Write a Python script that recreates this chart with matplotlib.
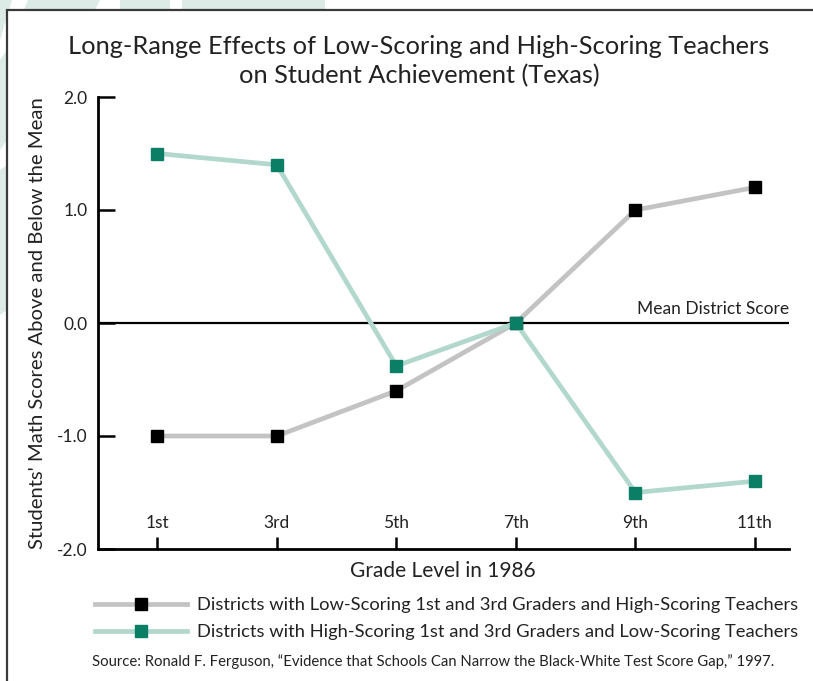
import matplotlib
matplotlib.use("Agg")
import matplotlib.pyplot as plt
from matplotlib.patches import Rectangle, Polygon

plt.rcParams['font.family'] = ['Lato', 'DejaVu Sans']

grades = [1, 3, 5, 7, 9, 11]
grade_labels = ['1st', '3rd', '5th', '7th', '9th', '11th']
low_scoring = [-1.0, -1.0, -0.6, 0.0, 1.0, 1.2]
high_scoring = [1.5, 1.4, -0.38, 0.0, -1.5, -1.4]
y_ticks = [2.0, 1.0, 0.0, -1.0, -2.0]
y_tick_labels = ['2.0', '1.0', '0.0', '-1.0', '-2.0']

low_name = 'Districts with Low-Scoring 1st and 3rd Graders and High-Scoring Teachers'
high_name = 'Districts with High-Scoring 1st and 3rd Graders and Low-Scoring Teachers'

W, H = 813, 681
fig = plt.figure(figsize=(W / 100, H / 100), dpi=100)

# faint watermark shapes behind the frame
wm = '#dcebe6'
shapes = [
    [(0, 0), (12, 0), (0, 40)],
    [(28, 0), (100, 0), (95, 10), (24, 10)],
    [(120, 0), (170, 0), (170, 10), (120, 10)],
    [(182, 0), (325, 0), (325, 10), (182, 10)],
    [(0, 60), (7, 50), (7, 140), (0, 150)],
    [(0, 170), (7, 165), (7, 310), (0, 315)],
]
for pts in shapes:
    fig.patches.append(Polygon([(x / W, 1 - y / H) for x, y in pts], closed=True,
                               transform=fig.transFigure, facecolor=wm,
                               edgecolor='none', zorder=-3))

frame = Rectangle((7 / W, -0.1), 1.2, 1 - 10 / H + 0.1, transform=fig.transFigure,
                  facecolor='white', edgecolor='#3a3a3a', linewidth=1.6, zorder=-2)
fig.patches.append(frame)

ax = fig.add_axes([97.5 / W, 1 - 549 / H, (789 - 97.5) / W, (549 - 97) / H])
ax.set_facecolor('none')

ax.axhline(0, color='black', linewidth=1.6, zorder=1)
ax.text(11.57, 0.05, 'Mean District Score', ha='right', va='bottom', fontsize=12.5,
        color='#222222')

ax.plot(grades, low_scoring, color='#c3c3c3', linewidth=3.4, marker='s',
        markersize=8.5, markerfacecolor='black', markeredgecolor='black',
        label=low_name, zorder=3)
ax.plot(grades, high_scoring, color='#b2d8cd', linewidth=3.4, marker='s',
        markersize=8.5, markerfacecolor='#0b7e66', markeredgecolor='#0b7e66',
        label=high_name, zorder=3)

ax.set_xlim(0, 11.57)
ax.set_ylim(-2, 2)
ax.spines['top'].set_visible(False)
ax.spines['right'].set_visible(False)
ax.spines['left'].set_linewidth(2.0)
ax.spines['bottom'].set_linewidth(2.0)

ax.set_yticks(y_ticks)
ax.set_yticklabels(y_tick_labels)
ax.tick_params(axis='y', direction='in', length=12, width=1.8, pad=7,
               labelsize=12.5, labelcolor='#222222')
ax.set_xticks(grades)
ax.set_xticklabels([])
ax.tick_params(axis='x', direction='in', length=8.5, width=1.8)
for g, lab in zip(grades, grade_labels):
    ax.text(g, -1.77, lab, ha='center', va='center', fontsize=12.5, color='#222222')

ax.set_xlabel('Grade Level in 1986', fontsize=15, color='#222222', labelpad=5)
ax.set_ylabel("Students' Math Scores Above and Below the Mean", fontsize=14.6,
              color='#222222', labelpad=8)

fig.text(419 / W, 1 - 61 / H,
         'Long-Range Effects of Low-Scoring and High-Scoring Teachers\non Student Achievement (Texas)',
         ha='center', va='center', fontsize=18.3, color='#222222', linespacing=1.28)

fig.legend(loc='upper left', bbox_to_anchor=(95 / W, 1 - 597 / H), frameon=False,
           fontsize=13.2, handlelength=5.0, handletextpad=0.55, labelspacing=0.6,
           borderpad=0, borderaxespad=0, labelcolor='#222222')

fig.text(92 / W, 1 - 662 / H,
         'Source: Ronald F. Ferguson, \u201cEvidence that Schools Can Narrow the Black-White Test Score Gap,\u201d 1997.',
         ha='left', va='center', fontsize=10.7, color='#222222')

fig.savefig('out.png', dpi=100)
